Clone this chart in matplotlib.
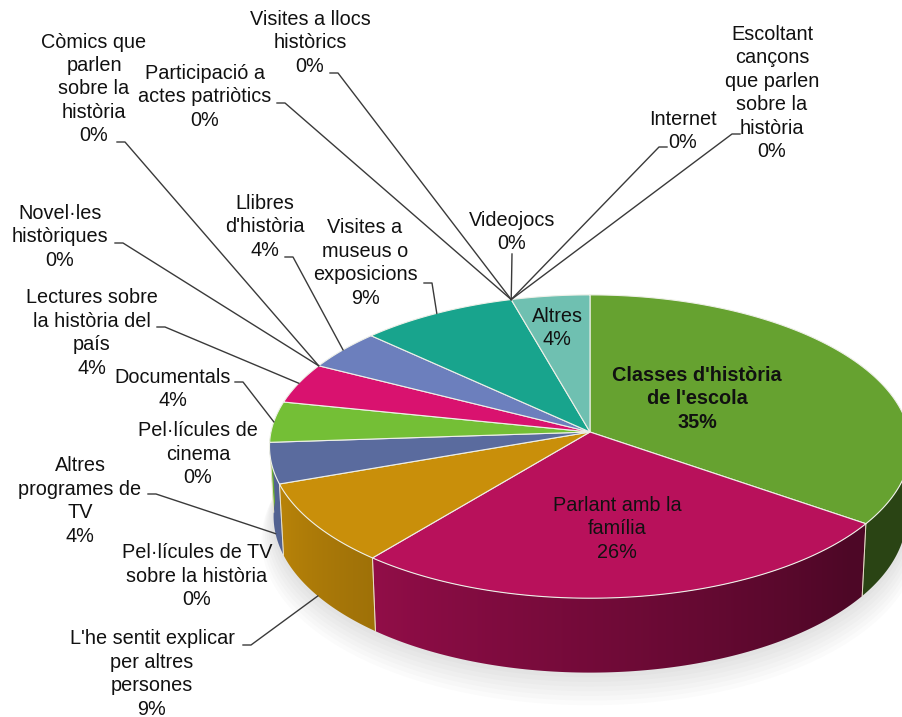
import numpy as np
import matplotlib
matplotlib.use("Agg")
import matplotlib.pyplot as plt
from matplotlib.patches import Polygon

# categories in drawing order (clockwise from 12 o'clock)
categories = [
    "Classes d'història\nde l'escola",
    "Parlant amb la\nfamília",
    "L'he sentit explicar\nper altres\npersones",
    "Pel·lícules de TV\nsobre la història",
    "Altres\nprogrames de\nTV",
    "Pel·lícules de\ncinema",
    "Documentals",
    "Lectures sobre\nla història del\npaís",
    "Novel·les\nhistòriques",
    "Còmics que\nparlen\nsobre la\nhistòria",
    "Llibres\nd'història",
    "Visites a\nmuseus o\nexposicions",
    "Participació a\nactes patriòtics",
    "Visites a llocs\nhistòrics",
    "Videojocs",
    "Internet",
    "Escoltant\ncançons\nque parlen\nsobre la\nhistòria",
    "Altres",
]
counts = [8, 6, 2, 0, 1, 0, 1, 1, 0, 0, 1, 2, 0, 0, 0, 0, 0, 1]
colors = ["#66a230", "#b8115b", "#c98f0a", "#c98f0a", "#5a6b9e", "#5a6b9e",
          "#74bf36", "#d9126f", "#d9126f", "#d9126f", "#6c7fbd", "#18a48d",
          "#18a48d", "#18a48d", "#18a48d", "#18a48d", "#18a48d", "#6fc0b1"]

# label layout (pixel positions): text centre, leader start (None = no leader)
label_pos = [(697, 399), (617, 529), (152, 674), (197, 576), (80, 501),
             (198, 454), (173, 389), (92, 333), (60, 237), (94, 89),
             (265, 227), (365, 263), (205, 97), (310, 43), (512, 232),
             (683, 131), (772, 93), (557, 328)]
leader_start = [None, None, (243, 645), None, (148, 494), None, (235, 382),
                (157, 327), (115, 243), (117, 142), (285, 257), (424, 283),
                (277, 103), (330, 73), (512, 254), (667, 147), (740, 134), None]

# projection of the tilted disc (perspective)
CX, CY = 590, 432
F, DIST = 2935.0, 9.2
ELEV = np.radians(28.1)
DEPTH = 0.25
se, ce = np.sin(ELEV), np.cos(ELEV)


def proj(theta, r=1.0, h=0.0):
    t = np.radians(theta)
    xw = r * np.sin(t)
    zw = r * np.cos(t)
    yc = zw * se - h * ce
    zc = DIST + zw * ce + h * se
    return CX + F * xw / zc, CY - F * yc / zc


def side_factor(theta):
    return 0.42 + 0.5 * np.clip((theta - 130) / 120, 0, 1)


total = sum(counts)
bounds = np.concatenate([[0], np.cumsum(counts)]) / total * 360.0

fig = plt.figure(figsize=(9.02, 7.17), dpi=100)
ax = fig.add_axes([0, 0, 1, 1])
ax.set_xlim(0, 902)
ax.set_ylim(717, 0)
ax.axis("off")

# soft shadow
for k in range(8):
    th = np.linspace(70, 290, 200)
    bx, by = proj(th, r=1.0 + 0.006 * k, h=DEPTH + 0.012 * k)
    tx, ty = proj(th[::-1], r=0.6)
    ax.add_patch(Polygon(np.column_stack([np.r_[bx, tx], np.r_[by, ty]]),
                         closed=True, fc="#808080", ec="none", alpha=0.03, zorder=1))

# x -> angle lookup on the front half, used for the side gradient
th_grid = np.linspace(90, 270, 2000)
x_grid, _ = proj(th_grid)
order = np.argsort(x_grid)
xs_img = np.linspace(260, 915, 700)
th_img = np.interp(xs_img, x_grid[order], th_grid[order])
fac_img = side_factor(th_img)

# side walls (front half only)
for i, v in enumerate(counts):
    a0, a1 = max(bounds[i], 90), min(bounds[i + 1], 270)
    if v == 0 or a1 <= a0:
        continue
    seg = np.linspace(a0, a1, 100)
    ux, uy = proj(seg)
    lx, ly = proj(seg[::-1], h=DEPTH)
    poly = Polygon(np.column_stack([np.r_[ux, lx], np.r_[uy, ly]]),
                   closed=True, fc="none", ec="none", zorder=2)
    ax.add_patch(poly)
    rgb = np.array(matplotlib.colors.to_rgb(colors[i]))
    img = np.clip(fac_img[None, :, None] * rgb[None, None, :], 0, 1)
    im = ax.imshow(img, extent=(xs_img[0], xs_img[-1], 700, 250), aspect="auto",
                   interpolation="bilinear", zorder=2)
    im.set_clip_path(poly)
    for a in (bounds[i], bounds[i + 1]):
        if 90 <= a <= 270:
            ex, ey = proj(np.array([a, a]), h=np.array([0, DEPTH]))
            ax.plot(ex, ey, color="#f0e8d0", lw=0.7, alpha=0.7, zorder=3)

# top surface
for i, v in enumerate(counts):
    if v == 0:
        continue
    th = np.linspace(bounds[i], bounds[i + 1], 120)
    px, py = proj(th)
    pts = np.column_stack([np.r_[CX, px], np.r_[CY, py]])
    ax.add_patch(Polygon(pts, closed=True, fc=colors[i], ec="#eef0e8",
                         lw=0.8, zorder=4))

ax.set_xlim(0, 902)
ax.set_ylim(717, 0)

# labels and leader lines
for i, (name, v) in enumerate(zip(categories, counts)):
    pct = f"{round(100 * v / total):.0f}%"
    x, y = label_pos[i]
    bold = i == 0
    ax.text(x, y, f"{name}\n{pct}", ha="center", va="center", fontsize=14.3,
            family="Liberation Sans", fontweight="bold" if bold else "normal",
            color="#111111", linespacing=1.29, zorder=6)
    if leader_start[i] is None:
        continue
    mid = 0.5 * (bounds[i] + bounds[i + 1])
    front = 90 < mid < 270
    axp, ayp = proj(mid, h=DEPTH if front else 0.0)
    sx, sy = leader_start[i]
    if abs(axp - sx) > 3:
        d = 1 if axp > sx else -1
        xs, ys = [sx, sx + 8 * d, axp], [sy, sy, ayp]
    else:
        xs, ys = [sx, axp], [sy, ayp]
    ax.plot(xs, ys, color="#3a3a3a", lw=1.0, zorder=5)

fig.savefig("out.png", dpi=100)
